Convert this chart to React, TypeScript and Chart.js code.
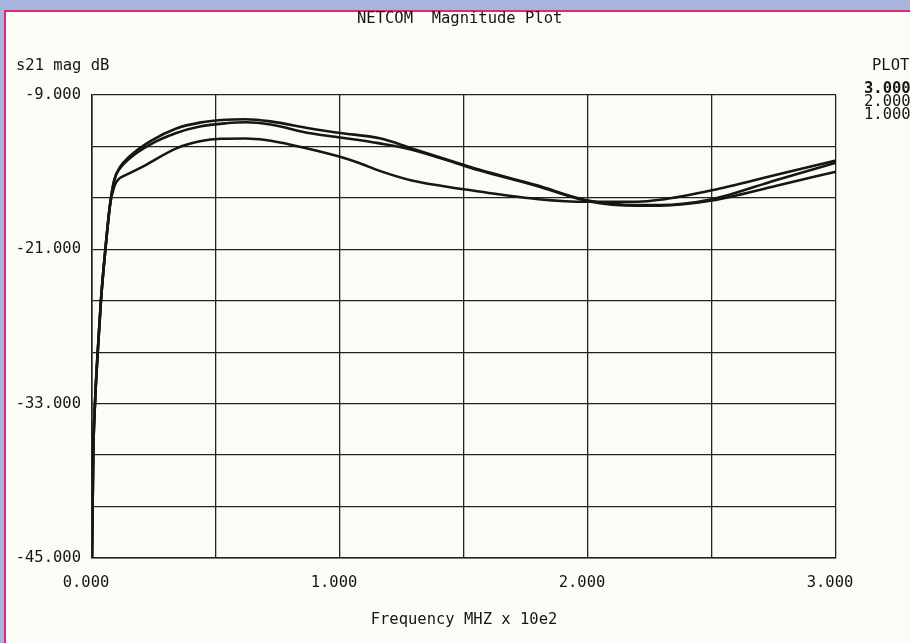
import React, { useEffect, useRef } from "react";
import { Chart, registerables } from "chart.js";

Chart.register(...registerables);

// ---- data ----
const TITLE = "NETCOM  Magnitude Plot";
const Y_TITLE = "s21 mag dB";
const X_TITLE = "Frequency MHZ x 10e2";
const LEGEND_TITLE = "PLOT";
const seriesLabels = ["3.000", "2.000", "1.000"];

const freq3 = [0, 0.005, 0.012, 0.023, 0.036, 0.054, 0.073, 0.09, 0.113, 0.15, 0.234, 0.34, 0.435, 0.54, 0.62, 0.72, 0.88, 1.0, 1.16, 1.29, 1.5, 1.56, 1.79, 2.0, 2.2, 2.29, 2.5, 2.76, 3.0];
const mag3 = [-45, -37, -33, -29, -25, -21, -17.5, -15.6, -14.6, -13.8, -12.6, -11.6, -11.15, -10.92, -10.88, -11.05, -11.6, -11.95, -12.37, -13.15, -14.44, -14.8, -16.0, -17.2, -17.55, -17.55, -17.1, -15.6, -14.26];

const freq2 = [0, 0.005, 0.012, 0.023, 0.036, 0.054, 0.073, 0.09, 0.113, 0.15, 0.234, 0.34, 0.435, 0.54, 0.62, 0.72, 0.88, 1.0, 1.16, 1.29, 1.5, 1.56, 1.79, 2.0, 2.2, 2.29, 2.5, 2.76, 3.0];
const mag2 = [-45, -37, -33, -29, -25, -21, -17.5, -15.6, -14.7, -13.95, -12.85, -11.95, -11.45, -11.2, -11.12, -11.3, -11.98, -12.3, -12.76, -13.25, -14.5, -14.85, -16.05, -17.25, -17.6, -17.6, -17.2, -16.05, -14.96];

const freq1 = [0, 0.005, 0.012, 0.023, 0.036, 0.054, 0.073, 0.09, 0.1, 0.15, 0.207, 0.34, 0.435, 0.52, 0.62, 0.7, 0.81, 1.0, 1.08, 1.16, 1.29, 1.5, 1.56, 1.8, 2.0, 2.2, 2.29, 2.5, 2.76, 3.0];
const mag1 = [-45, -37, -33, -29, -25, -21, -17.5, -16.1, -15.7, -15.1, -14.55, -13.15, -12.6, -12.4, -12.38, -12.5, -12.9, -13.8, -14.3, -14.9, -15.65, -16.33, -16.5, -17.1, -17.3, -17.3, -17.15, -16.4, -15.2, -14.1];

const yMin = -45;
const yMax = -9;
const yStep = 4;
const yLabelEvery = 12;
const xMin = 0;
const xMax = 3;
const xStep = 0.5;

const FONT = '"DejaVu Sans Mono", monospace';
const INK = "#161616";

const toPts = (xs: number[], ys: number[]) => xs.map((x, i) => ({ x, y: ys[i] }));

const textPlugin = {
  id: "plotterTexts",
  afterDraw(chart: any) {
    const ctx = chart.ctx;
    ctx.save();
    ctx.fillStyle = INK;
    ctx.textBaseline = "middle";
    ctx.textAlign = "left";
    ctx.font = `15.5px ${FONT}`;
    ctx.fillText(TITLE, 357, 19);
    ctx.fillText(Y_TITLE, 16, 66);
    ctx.fillText(LEGEND_TITLE, 872, 66);
    chart.data.datasets.forEach((ds: any, i: number) => {
      ctx.font = `${i === 0 ? "bold " : ""}15.5px ${FONT}`;
      ctx.fillText(ds.label, 864, 89 + i * 13);
    });
    ctx.restore();
  },
};

export default function App() {
  const ref = useRef<HTMLCanvasElement | null>(null);

  useEffect(() => {
    if (!ref.current) return;
    const lineStyle = {
      borderColor: INK,
      borderWidth: 2.6,
      pointRadius: 0,
      fill: false,
      cubicInterpolationMode: "monotone" as const,
    };
    const chart = new Chart(ref.current, {
      type: "line",
      data: {
        datasets: [
          { label: seriesLabels[0], data: toPts(freq3, mag3), ...lineStyle },
          { label: seriesLabels[1], data: toPts(freq2, mag2), ...lineStyle },
          { label: seriesLabels[2], data: toPts(freq1, mag1), ...lineStyle },
        ],
      },
      options: {
        responsive: false,
        animation: false,
        events: [],
        layout: { padding: { left: 0, right: 74, top: 95, bottom: 0 } },
        plugins: {
          legend: { display: false },
          title: { display: false },
          tooltip: { enabled: false },
        },
        scales: {
          x: {
            type: "linear",
            min: xMin,
            max: xMax,
            afterFit: (s: any) => {
              s.height = 85;
            },
            ticks: {
              stepSize: xStep,
              autoSkip: false,
              maxRotation: 0,
              padding: 16,
              labelOffset: -6,
              color: INK,
              font: { family: FONT, size: 15.5 },
              callback: (v: any) => (Number(v) % 1 === 0 ? Number(v).toFixed(3) : ""),
            },
            grid: { color: "#222", lineWidth: 1.3, drawTicks: false },
            border: { color: "#222", width: 1.6 },
            title: {
              display: true,
              text: X_TITLE,
              color: INK,
              font: { family: FONT, size: 15.5 },
              padding: { top: 0, bottom: 14 },
            },
          },
          y: {
            type: "linear",
            min: yMin,
            max: yMax,
            afterFit: (s: any) => {
              s.width = 92;
            },
            ticks: {
              stepSize: yStep,
              autoSkip: false,
              padding: 11,
              color: INK,
              font: { family: FONT, size: 15.5 },
              callback: (v: any) =>
                Math.round(Number(v) - yMin) % yLabelEvery === 0 ? Number(v).toFixed(3) : "",
            },
            grid: { color: "#222", lineWidth: 1.3, drawTicks: false },
            border: { color: "#222", width: 1.6 },
          },
        },
      },
      plugins: [textPlugin],
    });
    return () => chart.destroy();
  }, []);

  return (
    <div
      style={{
        position: "fixed",
        left: 0,
        top: 0,
        width: 910,
        height: 643,
        background: "#a7b4dc",
        overflow: "hidden",
      }}
    >
      <div
        style={{
          position: "absolute",
          left: 4,
          top: 10,
          right: 0,
          bottom: 0,
          background: "#fcfcf7",
          borderLeft: "2px solid #e0287a",
          borderTop: "2px solid #e0287a",
        }}
      />
      <canvas
        ref={ref}
        width={910}
        height={643}
        style={{ position: "absolute", left: 0, top: 0, width: 910, height: 643 }}
      />
    </div>
  );
}
